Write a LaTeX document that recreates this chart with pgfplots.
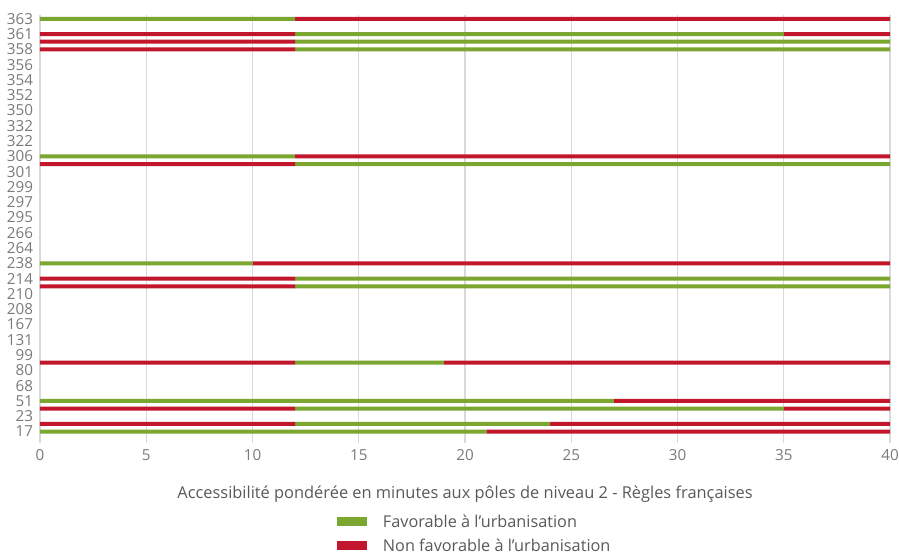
\documentclass[border=0pt]{standalone}
\usepackage{pgfplots}
\pgfplotsset{compat=1.18}
\usepackage{fontspec}
\setmainfont{Open Sans}
\definecolor{fav}{HTML}{7BA62F}
\definecolor{nfav}{HTML}{C1162B}
\definecolor{txt}{HTML}{595959}
\definecolor{tick}{HTML}{7A7A7A}
\definecolor{gridc}{HTML}{D9D9D9}
\begin{document}
\begin{tikzpicture}
\useasboundingbox (-30pt,-84pt) rectangle (644.25pt,332.25pt);
\begin{axis}[
  at={(0,0)}, anchor=south west,
  scale only axis, width=637.5pt, height=321pt,
  xbar stacked, bar width=3pt,
  xmin=0, xmax=40, ymin=-0.5, ymax=55.5,
  xtick={0,5,...,40},
  ytick={1,3,...,55},
  yticklabels={17,23,51,68,80,99,131,167,208,210,214,238,264,266,295,297,299,301,306,322,332,350,352,354,356,358,361,363},
  xmajorgrids, major grid style={gridc, line width=0.8pt},
  axis line style={draw=none},
  major tick length=0pt,
  tick label style={font=\fontsize{11.4pt}{13pt}\selectfont, text=tick},
  yticklabel style={anchor=east, inner sep=0pt, xshift=-5pt},
  xticklabel style={anchor=north, inner sep=0pt, yshift=-4.5pt},
  /pgf/number format/assume math mode=true,
  xlabel={Accessibilit\'e pond\'er\'ee en minutes aux p\^oles de niveau 2 - R\`egles fran\c{c}aises},
  xlabel style={at={(axis description cs:0.5,0)}, anchor=center, yshift=-38.5pt, font=\fontsize{12.3pt}{14pt}\selectfont, text=txt},
  legend style={at={(axis description cs:0.349,0)}, anchor=north west, yshift=-54pt, draw=none, fill=none, inner sep=0pt,
    row sep=6.8pt,
    nodes={inner sep=0pt, anchor=west, text=txt, font=\fontsize{12.2pt}{14pt}\selectfont, text height=9pt, text depth=2.2pt}},
  legend cell align=left,
  legend image code/.code={\fill[#1] (0pt,-2.2pt) rectangle (22.5pt,4.55pt); \path (34.5pt,0pt);},
]
% rows: y = 55 - k (k = row from top)
\addplot+[fill=fav, draw=none] coordinates {(12,55) (0,53) (0,52) (0,51) (12,37) (0,36) (10,23) (0,21) (0,20) (0,10) (27,5) (0,4) (0,2) (21,1)};
\addplot+[fill=nfav, draw=none] coordinates {(28,55) (12,53) (12,52) (12,51) (28,37) (12,36) (30,23) (12,21) (12,20) (12,10) (13,5) (12,4) (12,2) (19,1)};
\addplot+[fill=fav, draw=none] coordinates {(0,55) (23,53) (28,52) (28,51) (0,37) (28,36) (0,23) (28,21) (28,20) (7,10) (0,5) (23,4) (12,2) (0,1)};
\addplot+[fill=nfav, draw=none] coordinates {(0,55) (5,53) (0,52) (0,51) (0,37) (0,36) (0,23) (0,21) (0,20) (21,10) (0,5) (5,4) (16,2) (0,1)};
\legend{Favorable \`a l’urbanisation, Non favorable \`a l’urbanisation}
\end{axis}
\end{tikzpicture}
\end{document}
